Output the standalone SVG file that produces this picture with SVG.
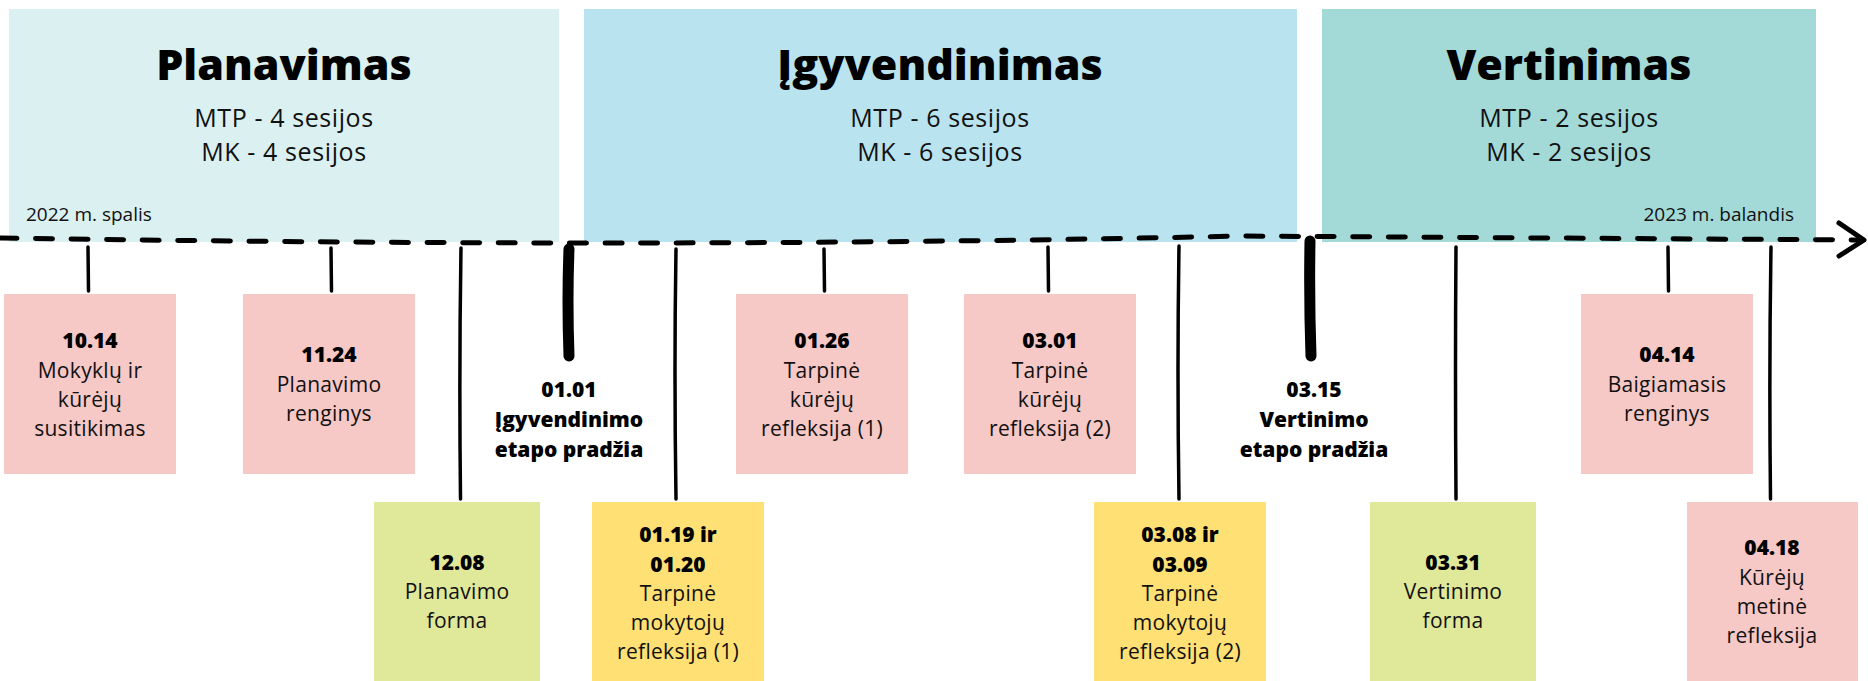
<svg xmlns="http://www.w3.org/2000/svg" width="1868" height="681" viewBox="0 0 1868 681">
<style>
.h{font-family:"Open Sans","Liberation Sans",sans-serif;font-weight:800;font-size:43px;text-anchor:middle;fill:#000}
.s{font-family:"Open Sans","Liberation Sans",sans-serif;font-size:25px;letter-spacing:0.6px;text-anchor:middle;fill:#111}
.d{font-family:"Open Sans","Liberation Sans",sans-serif;font-size:19px;fill:#111}
.b{font-family:"Open Sans","Liberation Sans",sans-serif;font-weight:800;font-size:21px;text-anchor:middle;fill:#000}
.t{font-family:"Open Sans","Liberation Sans",sans-serif;font-size:21px;letter-spacing:0.3px;text-anchor:middle;fill:#111}
.pink{fill:#f6c8c6}
.lime{fill:#e0e899}
.yel{fill:#fee074}
.tick{fill:none;stroke:#000;stroke-width:3.5;stroke-linecap:round}
.thick{fill:none;stroke:#000;stroke-width:11;stroke-linecap:round}
</style>
<rect width="1868" height="681" fill="#fff"/>

<g id="phase-planavimas">
<rect x="9" y="9" width="550" height="233" fill="#dbf0f1"/>
<text class="h" x="284" y="80">Planavimas</text>
<text class="s" x="284" y="127">MTP - 4 sesijos</text>
<text class="s" x="284" y="161">MK - 4 sesijos</text>
<text class="d" x="26" y="221">2022 m. spalis</text>
</g>

<g id="phase-igyvendinimas">
<rect x="584" y="9" width="713" height="233" fill="#b9e3ef"/>
<text class="h" x="940" y="80">Įgyvendinimas</text>
<text class="s" x="940" y="127">MTP - 6 sesijos</text>
<text class="s" x="940" y="161">MK - 6 sesijos</text>
</g>

<g id="phase-vertinimas">
<rect x="1322" y="9" width="494" height="233" fill="#a3dad8"/>
<text class="h" x="1569" y="80">Vertinimas</text>
<text class="s" x="1569" y="127">MTP - 2 sesijos</text>
<text class="s" x="1569" y="161">MK - 2 sesijos</text>
<text class="d" x="1794" y="221" text-anchor="end">2023 m. balandis</text>
</g>

<g id="connectors">
<path d="M0,238 C400,244 800,246 1240,236 L1860,240" fill="none" stroke="#000" stroke-width="5" stroke-linecap="round" stroke-dasharray="17 18.6"/>
<path d="M1839,223 L1864,240 L1839,256" fill="none" stroke="#000" stroke-width="5" stroke-linecap="round" stroke-linejoin="round"/>
<path class="tick" d="M88,247 L88.5,291"/>
<path class="tick" d="M331,248 L331.5,291"/>
<path class="tick" d="M461,248 Q459,370 460.5,499"/>
<path class="thick" d="M569,249 Q567,300 569,356"/>
<path class="tick" d="M676,249 Q674,370 676,499"/>
<path class="tick" d="M824,249 L824.5,291"/>
<path class="tick" d="M1048,247 L1048.5,291"/>
<path class="tick" d="M1179,246 Q1177,370 1179,499"/>
<path class="thick" d="M1310,241 Q1309,300 1311,356"/>
<path class="tick" d="M1456,247 Q1455,370 1456,499"/>
<path class="tick" d="M1668,247 L1668.5,291"/>
<path class="tick" d="M1771,247 Q1769,370 1770.5,499"/>
</g>

<g id="n-1014">
<rect class="pink" x="4" y="294" width="172" height="180"/>
<text class="b" x="90" y="348">10.14</text>
<text class="t" x="90" y="378">Mokyklų ir</text>
<text class="t" x="90" y="407">kūrėjų</text>
<text class="t" x="90" y="436">susitikimas</text>
</g>

<g id="n-1124">
<rect class="pink" x="243" y="294" width="172" height="180"/>
<text class="b" x="329" y="362">11.24</text>
<text class="t" x="329" y="392">Planavimo</text>
<text class="t" x="329" y="421">renginys</text>
</g>

<g id="n-1208">
<rect class="lime" x="374" y="502" width="166" height="179"/>
<text class="b" x="457" y="570">12.08</text>
<text class="t" x="457" y="599">Planavimo</text>
<text class="t" x="457" y="628">forma</text>
</g>

<g id="m-0101">
<text class="b" x="569" y="397">01.01</text>
<text class="b" x="569" y="427">Įgyvendinimo</text>
<text class="b" x="569" y="457">etapo pradžia</text>
</g>

<g id="n-0119">
<rect class="yel" x="592" y="502" width="172" height="179"/>
<text class="b" x="678" y="542">01.19 ir</text>
<text class="b" x="678" y="572">01.20</text>
<text class="t" x="678" y="601">Tarpinė</text>
<text class="t" x="678" y="630">mokytojų</text>
<text class="t" x="678" y="659">refleksija (1)</text>
</g>

<g id="n-0126">
<rect class="pink" x="736" y="294" width="172" height="180"/>
<text class="b" x="822" y="348">01.26</text>
<text class="t" x="822" y="378">Tarpinė</text>
<text class="t" x="822" y="407">kūrėjų</text>
<text class="t" x="822" y="436">refleksija (1)</text>
</g>

<g id="n-0301">
<rect class="pink" x="964" y="294" width="172" height="180"/>
<text class="b" x="1050" y="348">03.01</text>
<text class="t" x="1050" y="378">Tarpinė</text>
<text class="t" x="1050" y="407">kūrėjų</text>
<text class="t" x="1050" y="436">refleksija (2)</text>
</g>

<g id="n-0308">
<rect class="yel" x="1094" y="502" width="172" height="179"/>
<text class="b" x="1180" y="542">03.08 ir</text>
<text class="b" x="1180" y="572">03.09</text>
<text class="t" x="1180" y="601">Tarpinė</text>
<text class="t" x="1180" y="630">mokytojų</text>
<text class="t" x="1180" y="659">refleksija (2)</text>
</g>

<g id="m-0315">
<text class="b" x="1314" y="397">03.15</text>
<text class="b" x="1314" y="427">Vertinimo</text>
<text class="b" x="1314" y="457">etapo pradžia</text>
</g>

<g id="n-0331">
<rect class="lime" x="1370" y="502" width="166" height="179"/>
<text class="b" x="1453" y="570">03.31</text>
<text class="t" x="1453" y="599">Vertinimo</text>
<text class="t" x="1453" y="628">forma</text>
</g>

<g id="n-0414">
<rect class="pink" x="1581" y="294" width="172" height="180"/>
<text class="b" x="1667" y="362">04.14</text>
<text class="t" x="1667" y="392">Baigiamasis</text>
<text class="t" x="1667" y="421">renginys</text>
</g>

<g id="n-0418">
<rect class="pink" x="1687" y="502" width="171" height="179"/>
<text class="b" x="1772" y="555">04.18</text>
<text class="t" x="1772" y="585">Kūrėjų</text>
<text class="t" x="1772" y="614">metinė</text>
<text class="t" x="1772" y="643">refleksija</text>
</g>
</svg>
